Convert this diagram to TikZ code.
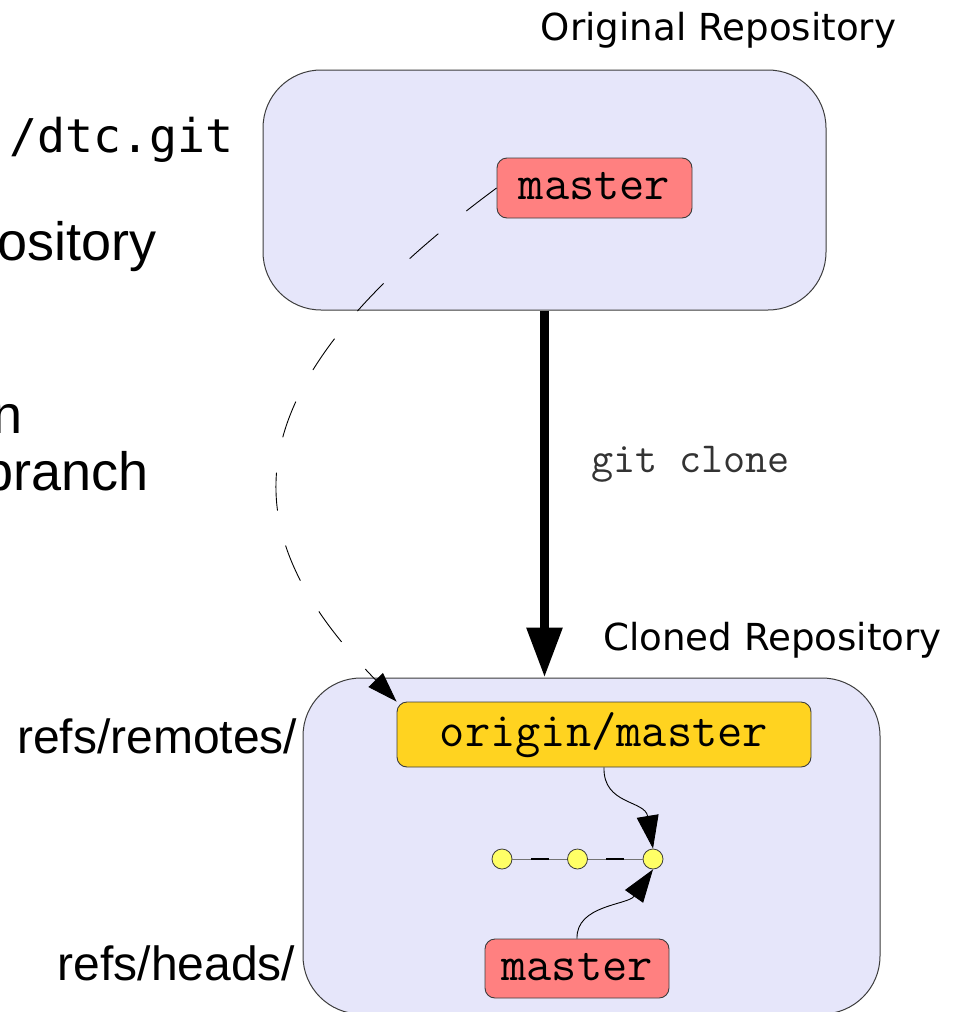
\documentclass[tikz,border=0pt]{standalone}
\usepackage{fontspec}
\setmainfont{DejaVu Sans}
\newfontfamily\slidefont{Liberation Sans}
\newfontfamily\urlfont{DejaVu Sans Mono}
\usetikzlibrary{arrows.meta,calc}

\definecolor{repofill}{RGB}{230,230,250}
\definecolor{branchred}{RGB}{255,128,128}
\definecolor{branchgold}{RGB}{255,211,32}
\definecolor{commityellow}{RGB}{255,255,102}
\definecolor{edgegray}{RGB}{60,60,60}

\begin{document}
\begin{tikzpicture}[x=1pt,y=-1pt,
  repo/.style={draw=edgegray, line width=1pt, fill=repofill, rounded corners=58pt, inner sep=0pt},
  branch/.style={draw=edgegray, line width=0.9pt, rounded corners=10pt, inner sep=0pt,
    font=\ttfamily\fontsize{49}{56}\selectfont, text height=23pt, text depth=0pt},
  commit/.style={circle, draw=edgegray, line width=0.8pt, fill=commityellow, minimum size=20pt, inner sep=0pt},
  title/.style={font=\fontsize{37.2}{44}\selectfont, anchor=base, inner sep=0pt},
  slide/.style={font=\slidefont\fontsize{54}{60}\selectfont, inner sep=0pt, anchor=base west},
  refname/.style={font=\slidefont\fontsize{48}{54}\selectfont, inner sep=0pt, anchor=base east},
  pointer/.style={line width=0.9pt, -{Triangle[length=33pt,width=22pt]}},
]
\useasboundingbox (0,0) rectangle (961,1012);
\clip (0,0) rectangle (961,1012);

% slide text on the left
\node[font=\urlfont\fontsize{46.5}{54}\selectfont, anchor=base east, inner sep=0pt] (url) at (234,152) {/dtc.git};
\node[slide] (repoword) at (-3,260) {ository};
\node[slide] (lineone) at (-8,433) {n};
\node[slide] (linetwo) at (-17,490) {branch};
\node[refname] (remotes) at (297.5,753) {refs/remotes/};
\node[refname] (heads) at (295.5,980) {refs/heads/};

% repositories
\node[repo, minimum width=563pt, minimum height=240pt] (orig) at (544.5,190) {};
\node[repo, minimum width=577pt, minimum height=336pt] (clone) at (591.5,846) {};
\node[title] (origtitle) at (718.5,40.5) {Original Repository};
\node[title] (clonetitle) at (772.5,650) {Cloned Repository};

% branches
\node[branch, fill=branchred, minimum width=195pt, minimum height=60pt] (mtop) at (594.5,188) {master};
\node[branch, fill=branchgold, minimum width=414pt, minimum height=65pt] (om) at (604,734.5) {origin/master};
\node[branch, fill=branchred, minimum width=184pt, minimum height=59pt] (mbot) at (577,968.5) {master};

% commits
\node[commit] (c1) at (502,859) {};
\node[commit] (c2) at (577.5,859) {};
\node[commit] (c3) at (653,859) {};
\draw[black!55, line width=0.8pt] (c1) -- (c2) -- (c3);
\draw[line width=2.5pt, shorten <=18.5pt, shorten >=18.5pt] (c1) -- (c2);
\draw[line width=2.5pt, shorten <=18.5pt, shorten >=18.5pt] (c2) -- (c3);

% clone arrow
\draw[line width=9pt, -{Triangle[length=50pt,width=34pt]}] (orig.south) -- (orig.south |- clone.north);
\node[font=\ttfamily\fontsize{42.9}{50}\selectfont, text=black!80, anchor=base west, inner sep=0pt] (clonecmd) at (591,472) {git clone};

% tracking link
\draw[line width=0.9pt, dash pattern=on 38pt off 36pt, -{Triangle[length=30pt,width=20pt]}]
  (mtop.west) .. controls (210,400) and (240,540) .. (om.north west);

% branch pointers
\draw[pointer] (om.south) .. controls (603,805) and (645,800) .. (c3.north);
\draw[pointer] (mbot.north) .. controls (576,905) and (628,905) .. (c3.south);
\end{tikzpicture}
\end{document}
